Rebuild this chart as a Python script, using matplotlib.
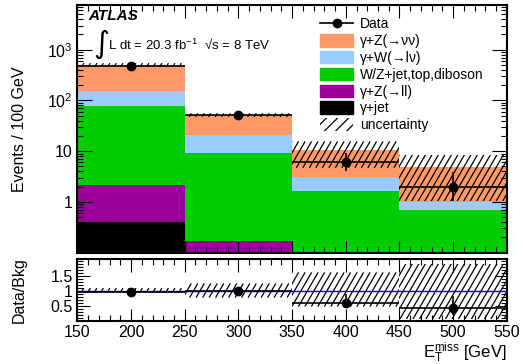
import matplotlib
matplotlib.use('Agg')
import matplotlib.pyplot as plt
import matplotlib.patches as patches
from matplotlib.lines import Line2D
from matplotlib.collections import LineCollection
from matplotlib.transforms import IdentityTransform
from matplotlib.ticker import FixedLocator, MultipleLocator, NullFormatter, LogLocator
import numpy as np

plt.rcParams['font.family'] = ['Liberation Sans', 'DejaVu Sans']
plt.rcParams['mathtext.fontset'] = 'custom'
plt.rcParams['mathtext.rm'] = 'Liberation Sans'
plt.rcParams['mathtext.it'] = 'Liberation Sans:italic'
plt.rcParams['hatch.linewidth'] = 0.9

# Bins in ETmiss [GeV]
bin_lo = [150, 250, 350, 450]
bin_centres = [200, 300, 400, 500]

# Background yields per process (events / 100 GeV)
gam_jet = [0.40, 0.02, 0.01, 0.005]
gam_zll = [1.8, 0.15, 0.05, 0.02]
wz_jet = [76.8, 9.0, 1.6, 0.68]
gam_wlv = [76.0, 11.6, 1.4, 0.28]
gam_znn = [350.0, 31.2, 7.7, 3.9]

# Data
data = [485, 51, 6.0, 1.97]
data_err_up = [22, 7.2, 3.2, 2.0]
data_err_dn = [22, 7.2, 2.0, 0.95]

# Uncertainty band on total background (upper panel)
band_lo = [462, 47.5, 4.7, 1.03]
band_hi = [545, 56.0, 15.6, 8.5]

# Ratio panel
ratio = [0.96, 0.98, 0.59, 0.41]
ratio_err_up = [0.02, 0.03, 0.30, 0.42]
ratio_err_dn = [0.02, 0.03, 0.18, 0.23]
ratio_band_up = [0.09, 0.24, 0.61, 0.90]
ratio_band_dn = [0.09, 0.23, 0.53, 0.95]

colors = {'gam_jet': 'black', 'gam_zll': '#990099', 'wz_jet': '#00cc00',
          'gam_wlv': '#99ccff', 'gam_znn': '#ff9966'}


def hatch_box(a, x0, x1, y0, y1, spacing=6.5, angle=60):
    # ROOT-like steep hatching, drawn in pixel space and clipped to the box
    rect = patches.Rectangle((x0, y0), x1 - x0, y1 - y0, fill=False, lw=0)
    a.add_patch(rect)
    px0, py0 = a.transData.transform((x0, y0))
    px1, py1 = a.transData.transform((x1, y1))
    dx = (py1 - py0) / np.tan(np.radians(angle))
    starts = np.arange(px0 - dx, px1 + spacing, spacing)
    segs = [[(s, py0), (s + dx, py1)] for s in starts]
    lc = LineCollection(segs, colors='black', linewidths=0.9, transform=IdentityTransform())
    a.add_collection(lc, autolim=False)
    lc.set_clip_path(rect)


fig = plt.figure(figsize=(5.23, 3.64), dpi=100)
ax = fig.add_axes([0.148, 0.306, 0.821, 0.680])
rax = fig.add_axes([0.148, 0.119, 0.821, 0.169])

# Stack
bottom = np.zeros(4)
for vals, key in [(gam_jet, 'gam_jet'), (gam_zll, 'gam_zll'), (wz_jet, 'wz_jet'),
                  (gam_wlv, 'gam_wlv'), (gam_znn, 'gam_znn')]:
    v = np.array(vals)
    ax.bar(bin_lo, v, width=100, bottom=bottom, align='edge', color=colors[key], linewidth=0)
    bottom = bottom + v

ax.set_yscale('log')
ax.set_ylim(0.1, 7600)
ax.set_xlim(150, 550)

# Uncertainty band
for x0, lo, hi in zip(bin_lo, band_lo, band_hi):
    hatch_box(ax, x0, x0 + 100, lo, hi)

# Data
ax.errorbar(bin_centres, data, xerr=50, yerr=[data_err_dn, data_err_up], fmt='o',
            color='black', markersize=6, elinewidth=1.2, capsize=0)

ax.yaxis.set_major_locator(FixedLocator([1, 10, 100, 1000]))
ax.yaxis.set_minor_locator(LogLocator(base=10, subs=np.arange(2, 10)))
ax.yaxis.set_minor_formatter(NullFormatter())
ax.set_yticklabels(['1', '10', r'$10^2$', r'$10^3$'])
ax.xaxis.set_major_locator(MultipleLocator(50))
ax.xaxis.set_minor_locator(MultipleLocator(10))
ax.tick_params(axis='x', labelbottom=False)
ax.set_ylabel('Events / 100 GeV', fontsize=11.5)
ax.yaxis.set_label_coords(-0.118, 0.5)

# Ratio
rax.set_xlim(150, 550)
rax.set_ylim(0, 2.05)
for x0, up, dn in zip(bin_lo, ratio_band_up, ratio_band_dn):
    hatch_box(rax, x0, x0 + 100, 1 - dn, 1 + up)
rax.axhline(1, color='blue', lw=1)
rax.errorbar(bin_centres, ratio, xerr=50, yerr=[ratio_err_dn, ratio_err_up], fmt='o',
             color='black', markersize=6, elinewidth=1.2, capsize=0)
rax.yaxis.set_major_locator(FixedLocator([0.5, 1, 1.5]))
rax.yaxis.set_minor_locator(MultipleLocator(0.1))
rax.set_yticklabels(['0.5', '1', '1.5'])
rax.xaxis.set_major_locator(MultipleLocator(50))
rax.xaxis.set_minor_locator(MultipleLocator(10))
rax.set_ylabel('Data/Bkg', fontsize=11.5)
rax.yaxis.set_label_coords(-0.118, 0.5)

for a in (ax, rax):
    a.tick_params(which='both', direction='in', top=True, right=True, labelsize=11.5)
    a.tick_params(which='major', length=9, width=0.8)
    a.tick_params(which='minor', length=4.5, width=0.8)
    for s in a.spines.values():
        s.set_linewidth(1.5)
ax.tick_params(axis='y', which='major', length=11)
rax.tick_params(axis='x', pad=3)

# Labels
fig.text(0.969, 0.018, r'$\mathregular{E_T^{miss}}$ [GeV]', fontsize=12, ha='right', va='baseline')
fig.text(0.168, 0.955, 'ATLAS', fontsize=11, fontweight='bold', fontstyle='italic', va='center')
fig.text(0.178, 0.878, '\u222b', fontsize=22, va='center', family=['DejaVu Sans'])
fig.text(0.206, 0.878, 'L dt = 20.3 fb$^{-1}$  \u221as = 8 TeV', fontsize=9.5, va='center')

handles = [
    Line2D([], [], color='black', marker='o', markersize=6, lw=1.2),
    patches.Patch(color=colors['gam_znn']),
    patches.Patch(color=colors['gam_wlv']),
    patches.Patch(color=colors['wz_jet']),
    patches.Patch(color=colors['gam_zll']),
    patches.Patch(color=colors['gam_jet']),
    patches.Patch(facecolor='none', edgecolor='black', hatch='///', linewidth=0),
]
labels = ['Data', '\u03b3+Z(\u2192\u03bd\u03bd)', '\u03b3+W(\u2192l\u03bd)', 'W/Z+jet,top,diboson',
          '\u03b3+Z(\u2192ll)', '\u03b3+jet', 'uncertainty']
fig.legend(handles, labels, loc='upper left', bbox_to_anchor=(0.612, 0.952), frameon=False,
           fontsize=10, handlelength=2.4, handleheight=1.0, labelspacing=0.2,
           handletextpad=0.45, borderaxespad=0, borderpad=0)

fig.savefig('out.png', dpi=100)
